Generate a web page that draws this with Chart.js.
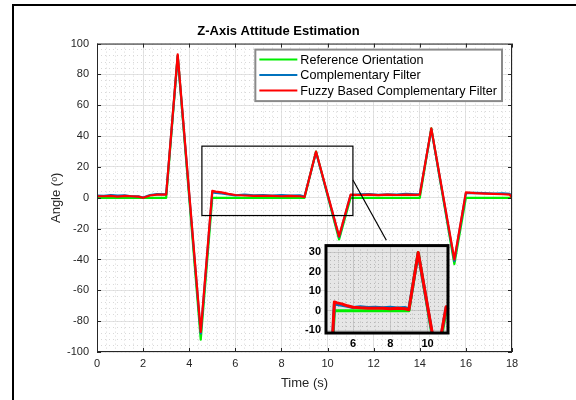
<!DOCTYPE html>
<html>
<head>
<meta charset="utf-8">
<script src="https://cdn.jsdelivr.net/npm/chart.js@4.4.1/dist/chart.umd.min.js"></script>
<style>
    html, body { margin: 0; padding: 0; background: #fff; }
    #wrap { position: relative; width: 576px; height: 400px; overflow: hidden; }
    #main { position: absolute; left: 0; top: 0; }
    #inset { position: absolute; left: 296px; top: 234px; }
</style>
</head>
<body>
<div id="wrap">
    <canvas id="main" width="576" height="400" style="width:576px;height:400px"></canvas>
    <canvas id="inset" width="160" height="122" style="width:160px;height:122px"></canvas>
</div>
<script>
// reference orientation (breakpoints)
const refTime  = [0, 3, 3.5, 4.5, 5, 9, 9.5, 10.5, 11, 14, 14.5, 15.5, 16, 18];
const refAngle = [0, 0, 92, -92, 0, 0, 30, -27, 0, 0, 45, -43, 0, 0];

// both filters share the same time samples
const filterTime = [0, 0.3, 0.6, 0.9, 1.2, 1.5, 1.8, 2.0, 2.3, 2.6,
    3.0, 3.5, 4.5, 5.0, 5.15, 5.4, 5.7, 6.0, 6.4, 6.8,
    7.2, 7.6, 8.0, 8.4, 8.8, 9.0, 9.5, 10.5, 11.0, 11.4,
    11.8, 12.2, 12.6, 13.0, 13.4, 13.8, 14.0, 14.5, 15.5, 16.0,
    16.4, 16.8, 17.2, 17.6, 17.9, 18.0];
const compAngle = [1.5, 1.2, 1.8, 1.4, 1.6, 1, 0.9, 0.2, 1.8, 2.4,
    2.2, 92, -88, 3.5, 3.2, 2.8, 2.2, 1.6, 2, 1.6,
    1.8, 1.5, 1.7, 1.4, 1.6, 0.8, 29.5, -25.5, 1.8, 2.2,
    2.4, 1.9, 2.3, 2.1, 2.5, 2.2, 2.2, 44.5, -41, 3,
    3.2, 3, 2.8, 2.9, 2.6, 0.5];
const fuzzyAngle = [1, 1, 1.3, 0.8, 1.2, 1, 0.8, 0, 1.5, 2,
    2, 93, -87, 4.5, 4, 3.5, 2.5, 1.8, 1.5, 1.3,
    1.2, 1.3, 1, 1.2, 1, 0.5, 30, -25, 2, 1.8,
    2, 1.7, 2, 1.8, 2, 1.9, 2, 45, -40, 3.5,
    3, 2.7, 2.5, 2.3, 2, 0];

const seriesNames = ['Reference Orientation', 'Complementary Filter', 'Fuzzy Based Complementary Filter'];
const seriesColors = ['#00ee00', '#0072bd', '#ff0000'];

// zoomed window shown in the inset
const zoomX = [4.55, 11.1];
const zoomY = [-11.5, 33.5];
const connector = [[11.1, 11.5], [12.55, -27.5]];

const FONT = 'Liberation Sans, Arial, Helvetica, sans-serif';
Chart.defaults.font.family = FONT;

function pts(xs, ys) {
    return xs.map((t, i) => ({ x: t, y: ys[i] }));
}

function makeDatasets(width) {
    return [
        { label: seriesNames[0], data: pts(refTime, refAngle), borderColor: seriesColors[0], order: 2 },
        { label: seriesNames[1], data: pts(filterTime, compAngle), borderColor: seriesColors[1], order: 1 },
        { label: seriesNames[2], data: pts(filterTime, fuzzyAngle), borderColor: seriesColors[2], order: 0 }
    ].map(d => Object.assign(d, {
        borderWidth: width, pointRadius: 0, tension: 0, fill: false,
        xAxisID: 'x', yAxisID: 'y', borderJoinStyle: 'round'
    }));
}

const mainDecor = {
    id: 'mainDecor',
    afterDraw(chart) {
        const ctx = chart.ctx;
        const a = chart.chartArea;
        const xs = chart.scales.x, ys = chart.scales.y;
        ctx.save();

        // axes box with inward ticks
        ctx.strokeStyle = '#262626';
        ctx.lineWidth = 1;
        ctx.strokeRect(a.left + 0.5, a.top + 0.5, a.right - a.left - 1, a.bottom - a.top - 1);
        ctx.beginPath();
        xs.ticks.forEach(t => {
            const px = Math.round(xs.getPixelForValue(t.value)) + 0.5;
            ctx.moveTo(px, a.bottom); ctx.lineTo(px, a.bottom - 4);
            ctx.moveTo(px, a.top); ctx.lineTo(px, a.top + 4);
        });
        ys.ticks.forEach(t => {
            const py = Math.round(ys.getPixelForValue(t.value)) + 0.5;
            ctx.moveTo(a.left, py); ctx.lineTo(a.left + 4, py);
            ctx.moveTo(a.right, py); ctx.lineTo(a.right - 4, py);
        });
        ctx.stroke();

        // zoom rectangle and connector
        ctx.strokeStyle = '#000';
        ctx.lineWidth = 1.2;
        const zx0 = xs.getPixelForValue(zoomX[0]), zx1 = xs.getPixelForValue(zoomX[1]);
        const zy0 = ys.getPixelForValue(zoomY[1]), zy1 = ys.getPixelForValue(zoomY[0]);
        ctx.strokeRect(zx0, zy0, zx1 - zx0, zy1 - zy0);
        ctx.beginPath();
        ctx.moveTo(xs.getPixelForValue(connector[0][0]), ys.getPixelForValue(connector[0][1]));
        ctx.lineTo(xs.getPixelForValue(connector[1][0]), ys.getPixelForValue(connector[1][1]));
        ctx.stroke();

        // legend box, top right inside the axes
        ctx.font = '12.6px ' + FONT;
        const textW = Math.max(...seriesNames.map(s => ctx.measureText(s).width));
        const sample = 38, rowH = 15.5;
        const boxW = 4 + sample + 3 + textW + 5;
        const boxH = rowH * seriesNames.length + 5;
        const bx = a.right - 10 - boxW, by = a.top + 6;
        ctx.fillStyle = '#fff';
        ctx.fillRect(bx, by, boxW, boxH);
        ctx.strokeStyle = '#8a8a8a';
        ctx.lineWidth = 2;
        ctx.strokeRect(bx, by, boxW, boxH);
        ctx.textBaseline = 'middle';
        seriesNames.forEach((name, i) => {
            const cy = by + 10 + i * rowH;
            ctx.strokeStyle = seriesColors[i];
            ctx.lineWidth = 2;
            ctx.beginPath();
            ctx.moveTo(bx + 4, cy); ctx.lineTo(bx + 4 + sample, cy);
            ctx.stroke();
            ctx.fillStyle = '#000';
            ctx.fillText(name, bx + 4 + sample + 3, cy + 0.5);
        });

        // outer figure frame
        ctx.strokeStyle = '#000';
        ctx.lineWidth = 2;
        ctx.beginPath();
        ctx.moveTo(13, chart.height); ctx.lineTo(13, 5); ctx.lineTo(chart.width, 5);
        ctx.stroke();
        ctx.restore();
    }
};

new Chart(document.getElementById('main'), {
    type: 'line',
    data: { datasets: makeDatasets(2.2) },
    options: {
        responsive: false,
        animation: false,
        layout: { padding: { left: 45, right: 64, top: 20, bottom: 0 } },
        plugins: {
            legend: { display: false },
            tooltip: { enabled: false },
            title: {
                display: true,
                text: 'Z-Axis Attitude Estimation',
                color: '#000',
                font: { size: 13, weight: 'bold', family: FONT },
                padding: { top: 4, bottom: 4 }
            }
        },
        scales: {
            x: {
                type: 'linear', min: 0, max: 18, position: 'bottom',
                ticks: { stepSize: 2, includeBounds: false, color: '#262626', font: { size: 11 }, padding: 5, maxRotation: 0 },
                grid: { color: '#e3e3e3', drawTicks: false },
                border: { display: false },
                title: { display: true, text: 'Time (s)', color: '#262626', font: { size: 13 }, padding: { top: 4, bottom: 9 } },
                afterFit: s => { s.height = 48; }
            },
            y: {
                type: 'linear', min: -100, max: 100, position: 'left',
                ticks: { stepSize: 20, includeBounds: false, color: '#262626', font: { size: 11 }, padding: 8 },
                grid: { color: '#e3e3e3', drawTicks: false },
                border: { display: false },
                title: { display: true, text: 'Angle (ᵒ)', color: '#262626', font: { size: 13 }, padding: { top: 4, bottom: 4 } },
                afterFit: s => { s.width = 52; }
            },
            xm: {
                type: 'linear', min: 0, max: 18, position: 'bottom',
                ticks: { display: false, stepSize: 0.4, autoSkip: false },
                grid: { color: '#d9d9d9', drawTicks: false, z: -1 },
                border: { display: false, dash: [1, 3] },
                afterFit: s => { s.height = 0; }
            },
            ym: {
                type: 'linear', min: -100, max: 100, position: 'left',
                ticks: { display: false, stepSize: 4, autoSkip: false },
                grid: { color: '#d9d9d9', drawTicks: false, z: -1 },
                border: { display: false, dash: [1, 3] },
                afterFit: s => { s.width = 0; }
            }
        }
    },
    plugins: [mainDecor]
});

const insetDecor = {
    id: 'insetDecor',
    beforeDraw(chart) {
        const a = chart.chartArea, ctx = chart.ctx;
        ctx.save();
        ctx.fillStyle = '#e6e6e6';
        ctx.fillRect(a.left, a.top, a.right - a.left, a.bottom - a.top);
        ctx.restore();
    },
    afterDraw(chart) {
        const a = chart.chartArea, ctx = chart.ctx;
        ctx.save();
        ctx.strokeStyle = '#000';
        ctx.lineWidth = 3;
        ctx.strokeRect(a.left, a.top, a.right - a.left, a.bottom - a.top);
        ctx.restore();
    }
};

new Chart(document.getElementById('inset'), {
    type: 'line',
    data: { datasets: makeDatasets(3) },
    options: {
        responsive: false,
        animation: false,
        layout: { padding: { left: 0, right: 8, top: 6, bottom: 0 } },
        plugins: { legend: { display: false }, tooltip: { enabled: false } },
        scales: {
            x: {
                type: 'linear', min: zoomX[0], max: zoomX[1], position: 'bottom',
                ticks: { stepSize: 2, includeBounds: false, color: '#000', font: { size: 11, weight: 'bold' }, padding: 4, maxRotation: 0 },
                grid: { color: '#c9c9c9', drawTicks: false },
                border: { display: false },
                afterFit: s => { s.height = 23; }
            },
            y: {
                type: 'linear', min: zoomY[0], max: zoomY[1], position: 'left',
                ticks: { stepSize: 10, includeBounds: false, color: '#000', font: { size: 11, weight: 'bold' }, padding: 5 },
                grid: { color: '#c9c9c9', drawTicks: false },
                border: { display: false },
                afterFit: s => { s.width = 30; }
            },
            xm: {
                type: 'linear', min: zoomX[0], max: zoomX[1], position: 'bottom',
                ticks: { display: false, stepSize: 0.4, autoSkip: false },
                grid: { color: '#b8b8b8', drawTicks: false },
                border: { display: false, dash: [1, 3] },
                afterFit: s => { s.height = 0; }
            },
            ym: {
                type: 'linear', min: zoomY[0], max: zoomY[1], position: 'left',
                ticks: { display: false, stepSize: 2, autoSkip: false },
                grid: { color: '#b8b8b8', drawTicks: false },
                border: { display: false, dash: [1, 3] },
                afterFit: s => { s.width = 0; }
            }
        }
    },
    plugins: [insetDecor]
});
</script>
</body>
</html>
